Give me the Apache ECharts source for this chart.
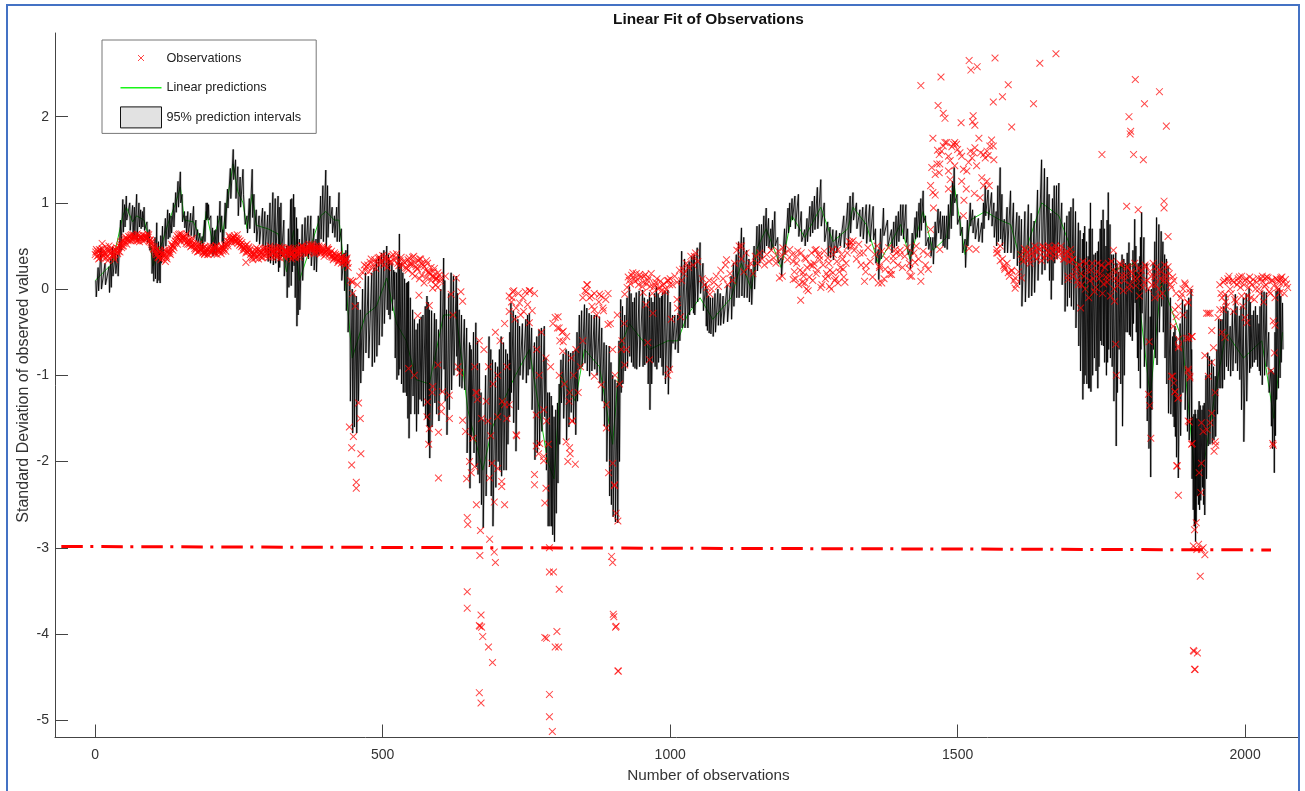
<!DOCTYPE html>
<html><head><meta charset="utf-8">
<style>html,body{margin:0;padding:0;background:#fff}#c{width:1305px;height:791px}</style>
<script src="https://cdn.jsdelivr.net/npm/echarts@6/dist/echarts.min.js"></script>
</head><body><div id="c"></div>
<script>
const xTicks=[0,500,1000,1500,2000];
const yTicks=[-5,-4,-3,-2,-1,0,1,2];
const thresholdLine=[[-59,-2.985],[2045,-3.025]];
// interval band: [x, upper, lower]
const bandRows=[[1,.1,-.09],[10,.48,.0],[24,.26,-.04],[30,.49,.15],[39,.4,.15],[48,1.04,.66],[54,1.08,.8],[65,.97,.58],[72,1.1,.58],[79,.92,.7],[85,.95,.68],[94,.69,.45],[101,.45,.09],[107,.77,.07],[112,.45,.07],[117,.73,.38],[126,.92,.58],[132,.85,.65],[140,1.12,.89],[148,1.36,1.0],[155,.9,.71],[161,.9,.61],[171,.96,.6],[178,.69,.54],[186,.61,.46],[193,1.0,.8],[197,.98,.8],[204,.71,.38],[210,.69,.4],[217,1.02,.66],[222,.69,.48],[230,1.16,.94],[240,1.62,1.27],[248,1.42,.85],[257,1.39,1.1],[264,.85,.65],[273,1.39,.83],[280,.92,.55],[291,.94,.5],[300,.86,.32],[309,1.12,.28],[318,1.08,.2],[323,1.0,.38],[333,.5,-.1],[340,1.04,.04],[345,1.1,.27],[350,.83,-.43],[355,.58,-.24],[365,.83,.38],[375,.85,.27],[384,.58,.2],[392,1.08,.58],[401,1.38,.47],[408,1.08,.76],[416,.85,.6],[424,1.12,.55],[433,.42,-.02],[439,.52,-.5],[447,.0,-1.67],[454,-.08,-1.67],[461,-.24,-1.09],[470,.19,-.74],[481,.19,-.9],[489,.34,-.78],[498,.42,-.55],[507,.5,-.24],[512,.34,-.35],[519,.22,-.12],[524,.19,-1.05],[529,.64,-.93],[535,.19,-1.2],[541,.07,-1.24],[545,.09,-1.73],[552,-.24,-1.24],[558,-.47,-1.65],[564,-.35,-1.28],[570,-.3,-1.36],[577,-.08,-1.59],[581,-.24,-1.96],[590,-.28,-1.32],[597,-.47,-1.53],[606,.36,-.93],[611,-.24,-1.69],[619,.19,-1.17],[628,.15,-.78],[633,-.24,-1.13],[642,-.35,-1.17],[651,-.62,-2.31],[654,-.7,-1.71],[662,-.39,-2.06],[668,-.86,-2.25],[674,-1.51,-2.77],[685,-.55,-2.06],[691,-.82,-2.75],[700,-.9,-2.0],[706,-.55,-2.17],[714,-.7,-2.1],[720,-.82,-1.48],[723,-.16,-1.2],[731,-.3,-1.88],[738,-.43,-1.0],[749,-.35,-1.09],[755,-.28,-.93],[764,-.62,-1.98],[772,-.47,-1.82],[781,-.43,-1.48],[787,-1.2,-2.75],[793,-1.24,-2.75],[798,-1.48,-2.93],[804,-1.32,-2.25],[810,-.82,-1.32],[819,-.7,-1.75],[827,-.74,-1.43],[835,-.7,-1.69],[842,-.3,-.93],[851,-.18,-.86],[859,-.28,-1.01],[868,-.3,-.93],[877,-.32,-1.09],[885,-.62,-1.59],[894,-.66,-2.4],[900,-1.0,-2.64],[908,-1.09,-2.71],[914,-.12,-1.2],[921,-.3,-.95],[929,.03,-.78],[935,-.15,-.9],[941,-.04,-.93],[952,-.01,-.9],[958,-.2,-.85],[964,-.04,-1.4],[970,-.15,-.85],[976,.03,-.93],[982,-.1,-.8],[987,-.04,-1.0],[996,-.01,-1.22],[1004,-.3,-.63],[1013,-.3,-.74],[1020,.44,-.45],[1030,.29,-.45],[1037,.38,-.22],[1042,.4,-.3],[1052,.54,-.05],[1062,.07,-.43],[1067,-.08,-.51],[1074,-.1,-.55],[1083,.0,-.42],[1092,-.08,-.4],[1106,.15,-.35],[1115,.4,-.1],[1124,.71,-.08],[1133,.45,-.1],[1141,.23,-.18],[1151,.73,.21],[1159,.75,.35],[1167,.94,.5],[1175,.7,.45],[1182,.9,.5],[1193,.36,.15],[1205,.94,.65],[1212,1.05,.8],[1223,1.1,.61],[1234,.69,.5],[1243,.96,.61],[1251,1.08,.69],[1262,1.27,.73],[1274,.78,.38],[1283,.69,.34],[1295,.65,.5],[1309,1.0,.46],[1318,1.12,.8],[1330,.92,.61],[1341,.98,.53],[1353,.96,.57],[1362,.46,.11],[1371,.94,.62],[1385,.69,.42],[1393,.85,.5],[1401,.98,.62],[1410,.98,.54],[1417,.46,.23],[1426,.83,.58],[1433,1.0,.6],[1440,1.14,.77],[1449,.6,.46],[1457,.6,.29],[1466,.93,.65],[1474,.85,.5],[1481,.85,.46],[1488,1.1,.7],[1494,1.41,1.0],[1504,.85,.62],[1513,.58,.25],[1522,1.0,.73],[1530,.85,.58],[1542,.77,.54],[1548,1.2,.85],[1559,1.12,.73],[1567,.9,.5],[1574,1.41,.58],[1581,.81,.42],[1592,1.14,.42],[1603,.89,.27],[1611,.81,-.2],[1623,.98,-.1],[1633,.79,-.04],[1646,1.5,.17],[1656,1.3,.3],[1662,.88,-.12],[1668,1.2,.3],[1676,1.23,.42],[1686,.77,-.26],[1694,.9,-.1],[1701,1.05,-.24],[1710,.77,-.66],[1717,.58,-1.28],[1721,.73,-1.0],[1727,.38,-1.15],[1731,1.0,-1.19],[1737,.4,-.8],[1743,.44,-1.15],[1748,.7,-.6],[1753,.92,-.66],[1758,.5,-1.0],[1762,1.12,-.7],[1768,.4,-.9],[1775,.42,-1.82],[1780,.2,-.7],[1786,.4,-1.59],[1792,.3,-.5],[1798,.54,-.53],[1803,.1,-.6],[1808,.81,-.16],[1812,.2,-.8],[1817,.38,-1.15],[1820,.89,-.28],[1829,.3,-1.53],[1835,-.32,-2.18],[1840,.3,-.7],[1846,.83,-.88],[1854,.67,-.2],[1860,.4,-.8],[1866,.27,-1.44],[1874,-.55,-1.48],[1878,-.43,-1.71],[1883,-.7,-2.19],[1891,-.12,-1.2],[1899,-.24,-1.65],[1906,.0,-1.82],[1909,-1.48,-2.56],[1913,-1.4,-2.93],[1916,-1.5,-2.4],[1920,-1.3,-2.56],[1925,-1.4,-2.3],[1929,-1.32,-2.62],[1935,-.74,-1.82],[1942,-.82,-1.79],[1948,-1.01,-1.71],[1954,-.35,-1.15],[1960,-.35,-1.15],[1967,-.06,-.9],[1974,-.43,-1.01],[1983,-.06,-.86],[1990,-.31,-1.05],[1997,-.1,-1.77],[2007,.01,-.97],[2012,-.3,-.9],[2018,-.2,-.82],[2024,-.4,-.95],[2029,-.02,-1.11],[2037,-.04,-.9],[2045,-.93,-1.59],[2050,-.97,-2.13],[2054,-.02,-1.28],[2060,.01,-1.03],[2065,-.16,-.7]];
// inner strands of the interval band: [x, upper, lower]
const bandInnerRows=[[5,.25,-.02],[17,.3,.05],[27,.35,.02],[35,.42,.18],[44,.8,.45],[51,.98,.72],[60,1.0,.68],[68,.95,.62],[76,1.0,.72],[82,.9,.72],[90,.78,.55],[98,.5,.18],[104,.6,.12],[110,.55,.1],[114,.62,.3],[122,.82,.5],[129,.88,.6],[136,1.0,.72],[144,1.25,.95],[151,1.1,.78],[158,.85,.65],[166,.88,.62],[175,.8,.56],[182,.65,.5],[190,.8,.55],[195,1.0,.82],[201,.85,.5],[207,.68,.42],[213,.85,.52],[220,.85,.55],[226,1.0,.7],[235,1.4,1.05],[244,1.5,1.05],[252,1.3,.95],[260,1.1,.75],[268,1.05,.7],[276,1.1,.65],[285,.85,.52],[295,.9,.45],[304,1.0,.3],[313,1.05,.3],[320,.95,.25],[328,.8,.15],[336,.7,.02],[342,1.05,.2],[347,.95,-.1],[352,.7,-.3],[360,.75,.1],[370,.85,.35],[380,.7,.22],[388,.85,.4],[396,1.2,.55],[404,1.2,.6],[412,.95,.65],[420,.95,.55],[428,.7,.1],[436,.45,-.25],[443,.1,-1.3],[450,-.05,-1.6],[457,-.15,-1.3],[465,.0,-.95],[475,.15,-.8],[485,.25,-.85],[493,.38,-.65],[502,.45,-.4],[510,.4,-.3],[516,.3,-.25],[521,.2,-.8],[527,.4,-1.0],[532,.3,-1.1],[538,.12,-1.2],[543,.08,-1.5],[548,-.1,-1.45],[555,-.35,-1.45],[561,-.4,-1.45],[567,-.32,-1.3],[574,-.2,-1.5],[579,-.15,-1.8],[585,-.25,-1.6],[593,-.35,-1.45],[601,.0,-1.2],[608,.1,-1.3],[615,-.05,-1.4],[623,.15,-1.0],[630,-.05,-.95],[637,-.3,-1.15],[646,-.45,-1.9],[652,-.65,-2.0],[658,-.5,-1.9],[665,-.6,-2.15],[671,-1.2,-2.5],[679,-1.0,-2.4],[688,-.7,-2.4],[696,-.85,-2.3],[703,-.7,-2.1],[710,-.62,-2.1],[717,-.75,-1.8],[721,-.5,-1.3],[727,-.25,-1.55],[735,-.35,-1.4],[743,-.4,-1.05],[752,-.3,-1.0],[759,-.45,-1.4],[768,-.55,-1.9],[776,-.45,-1.65],[784,-.8,-2.1],[790,-1.2,-2.75],[795,-1.35,-2.85],[801,-1.4,-2.6],[807,-1.1,-1.8],[814,-.75,-1.5],[823,-.72,-1.6],[831,-.72,-1.55],[838,-.5,-1.3],[846,-.25,-.9],[855,-.22,-.95],[863,-.3,-.95],[872,-.3,-1.0],[881,-.45,-1.3],[889,-.65,-2.0],[897,-.85,-2.5],[904,-1.05,-2.7],[911,-.6,-2.0],[917,-.2,-1.1],[925,-.1,-.9],[932,-.05,-.85],[938,-.1,-.92],[946,-.02,-.9],[955,-.1,-.88],[961,-.12,-1.1],[967,-.1,-1.1],[973,-.05,-.9],[979,-.05,-.85],[985,-.08,-.9],[991,-.02,-1.1],[1000,-.15,-.95],[1008,-.3,-.7],[1016,.1,-.6],[1025,.35,-.45],[1033,.32,-.3],[1040,.38,-.28],[1047,.48,-.15],[1057,.3,-.25],[1064,.0,-.48],[1070,-.1,-.52],[1078,-.05,-.5],[1087,-.05,-.42],[1099,.05,-.38],[1110,.3,-.2],[1119,.55,-.1],[1128,.6,-.1],[1137,.35,-.15],[1146,.5,.0],[1155,.75,.3],[1163,.85,.42],[1171,.82,.48],[1178,.8,.48],[1187,.6,.3],[1199,.7,.4],[1208,1.0,.72],[1217,1.08,.7],[1228,.9,.55],[1238,.82,.55],[1247,1.02,.65],[1256,1.18,.7],[1268,1.0,.55],[1278,.72,.36],[1289,.68,.42],[1302,.85,.48],[1313,1.08,.65],[1324,1.0,.7],[1335,.95,.58],[1347,.98,.55],[1357,.7,.3],[1366,.7,.35],[1378,.8,.5],[1389,.78,.48],[1397,.9,.55],[1405,.98,.58],[1413,.7,.4],[1421,.65,.4],[1429,.9,.6],[1436,1.05,.68],[1444,.85,.5],[1453,.6,.38],[1461,.78,.48],[1470,.9,.58],[1477,.85,.48],[1484,.98,.58],[1491,1.25,.85],[1499,1.1,.75],[1508,.72,.42],[1517,.8,.5],[1526,.92,.65],[1536,.82,.55],[1545,1.0,.7],[1553,1.15,.8],[1563,1.0,.6],[1570,1.2,.55],[1577,1.1,.5],[1586,.95,.42],[1597,1.0,.35],[1607,.85,.05],[1617,.9,-.15],[1628,.88,-.08],[1639,1.15,.1],[1651,1.4,.22],[1659,1.1,.1],[1665,1.05,.1],[1672,1.2,.35],[1681,1.0,.05],[1690,.85,-.2],[1697,.95,-.2],[1705,.9,-.45],[1713,.68,-.95],[1719,.65,-1.1],[1724,.55,-1.1],[1729,.7,-1.15],[1734,.7,-1.0],[1740,.42,-.95],[1745,.55,-.9],[1750,.8,-.65],[1755,.7,-.85],[1760,.8,-.85],[1765,.75,-.8],[1771,.4,-1.3],[1777,.3,-1.2],[1783,.3,-1.1],[1789,.35,-1.0],[1795,.42,-.5],[1800,.3,-.55],[1805,.45,-.4],[1810,.5,-.5],[1814,.3,-.95],[1818,.6,-.7],[1824,.6,-.9],[1832,.0,-1.85],[1837,.0,-1.4],[1843,.55,-.8],[1850,.75,-.5],[1857,.55,-.5],[1863,.35,-1.1],[1870,-.1,-1.45],[1876,-.5,-1.6],[1880,-.55,-1.95],[1887,-.4,-1.7],[1895,-.18,-1.4],[1902,-.1,-1.75],[1907,-.7,-2.2],[1911,-1.45,-2.75],[1914,-1.45,-2.7],[1918,-1.4,-2.5],[1922,-1.35,-2.45],[1927,-1.35,-2.5],[1932,-1.0,-2.2],[1938,-.78,-1.8],[1945,-.9,-1.75],[1951,-.7,-1.45],[1957,-.35,-1.15],[1963,-.2,-1.05],[1970,-.25,-.95],[1978,-.25,-.95],[1986,-.2,-.95],[1993,-.2,-1.4],[2002,-.05,-1.3],[2009,-.15,-.92],[2015,-.25,-.85],[2021,-.3,-.9],[2026,-.2,-1.0],[2033,-.03,-1.0],[2041,-.5,-1.2],[2047,-.95,-1.85],[2052,-.5,-1.7],[2057,.0,-1.15],[2062,-.08,-.85]];
// linear prediction: [x, y]
const predicted=[[0,.1],[30,.3],[48,.85],[54,.95],[65,.78],[72,.85],[85,.8],[94,.58],[101,.27],[107,.4],[117,.55],[126,.75],[140,1.0],[148,1.18],[155,.8],[171,.78],[186,.53],[193,.9],[204,.55],[217,.84],[222,.65],[230,1.05],[240,1.45],[248,1.13],[257,1.0],[264,.7],[273,1.1],[280,.74],[300,.7],[318,.64],[333,.2],[345,.68],[355,.1],[375,.5],[392,.85],[401,.9],[416,.8],[424,.8],[433,.25],[447,-.8],[470,-.3],[489,-.2],[507,.13],[524,-.4],[541,-.6],[558,-1.05],[581,-1.1],[606,-.3],[628,-.3],[648,-1.4],[674,-2.1],[691,-1.6],[720,-1.15],[731,-1.0],[755,-.7],[787,-2],[798,-2.2],[810,-1.0],[835,-1.3],[851,-.7],[877,-.9],[900,-1.8],[914,-.66],[929,-.4],[964,-.7],[996,-.6],[1013,-.6],[1030,-.3],[1052,-.1],[1074,-.35],[1106,-.1],[1124,.3],[1141,.0],[1151,.47],[1167,.7],[1193,.25],[1212,.85],[1234,.6],[1262,.95],[1283,.55],[1309,.7],[1318,.95],[1341,.75],[1362,.3],[1385,.55],[1401,.75],[1417,.35],[1440,.9],[1457,.45],[1481,.6],[1494,1.2],[1513,.4],[1522,.8],[1548,.9],[1574,.8],[1592,.75],[1611,.3],[1646,1],[1676,.85],[1701,.4],[1731,-.1],[1762,.2],[1808,.3],[1835,-1.25],[1854,.1],[1891,-.6],[1913,-2.2],[1929,-2],[1948,-1.2],[1967,-.5],[1997,-.8],[2029,-.6],[2050,-1.5],[2065,-.5]];
// observation strips: each run starts at x=start, one value every 4 observations
const obsStrips=[
{start:0,y:[.40,.44,.36,.47,.41,.38,.50,.42,.37,.45,.47,.52,.56,.55,.58,.60,.59,.62,.60,.58,.61,.59,.62,.60,.57,.50,.44,.40,.45,.36,.42,.38,.46,.47,.50,.55,.60,.57,.62,.58,.55,.52,.56,.50,.47,.52,.45,.48,.42,.46,.50,.44,.48,.40,.45,.50,.47,.52,.55,.58,.60,.57,.53,.56,.50,.46,.52,.44,.38,.42,.48,.35,.45,.40,.48,.43,.50,.37,.46,.41,.49,.44,.40,.45,.38,.47,.42,.36,.44,.48,.50,.43,.46,.52,.48,.44,.50,.46,.41,.47,.43,.48,.40,.37,.42,.35,.40,.30,.38,.33]},
{start:2,y:[.46,.35,.42,.39,.49,.33,.45,.40,.34,.43,.50,.48,.53,.58,.61,.56,.63,.58,.56,.60,.63,.57,.60,.55,.52,.46,.40,.36,.34,.41,.32,.42,.43,.50,.53,.62,.58,.64,.60,.53,.56,.49,.51,.45,.43,.49,.47,.41,.44,.48,.42,.46,.50,.43,.47,.44,.49,.53,.60,.56,.62,.59,.55,.49,.48,.42,.47,.40,.34,.45,.38,.44,.36,.47,.41,.37,.45,.43,.39,.47,.36,.42,.46,.40,.44,.35,.39,.46,.41,.45,.47,.40,.49,.45,.50,.47,.42,.48,.44,.38,.44,.46,.38,.34,.40,.31,.36,.34,.28,.36]},
{start:1,y:[.43,.39,.45,.37,.42,.46,.36,.44,.40,.48,.44,.55,.50,.60,.56,.62,.57,.60,.64,.55,.59,.62,.58,.63,.54,.47,.42,.37,.43,.38,.45,.35,.41,.52,.48,.58,.63,.55,.60,.61,.52,.54,.59,.47,.50,.44,.50,.43,.47,.40,.45,.49,.42,.46,.43,.48,.51,.56,.62,.54,.59,.55,.58,.52,.45,.50,.43,.46,.36,.40,.44,.39,.42,.46,.38,.47,.40,.44,.48,.38,.45,.48,.37,.43,.48,.40,.45,.38,.47,.42,.49,.46,.44,.48,.52,.41,.47,.50,.43,.45,.40,.46,.42,.39,.36,.38,.33,.37,.31,.34]},
{start:3,y:[.38,.46,.41,.44,.36,.43,.47,.39,.46,.41,.43,.50,.58,.52,.57,.63,.60,.56,.62,.59,.56,.60,.64,.57,.55,.49,.46,.38,.41,.39,.36,.44,.40,.45,.56,.52,.64,.59,.56,.64,.57,.50,.53,.52,.44,.47,.42,.49,.40,.43,.47,.41,.50,.45,.41,.46,.44,.50,.57,.60,.55,.63,.51,.54,.47,.44,.49,.42,.40,.36,.46,.42,.37,.43,.46,.40,.48,.42,.37,.44,.48,.39,.43,.47,.41,.38,.46,.42,.37,.50,.45,.48,.42,.50,.46,.43,.48,.45,.49,.42,.46,.41,.44,.36,.38,.33,.37,.32,.35,.30]},
{start:440,y:[.25,.10,-.05,-.20,.05,.15,.20,.28]},
{start:470,y:[.22,.28,.31,.25,.34,.30,.37,.33,.28,.38,.35,.32,.40,.36,.30,.33,.27,.31,.24,.36,.29,.38,.26,.33,.35,.28,.22,.30,.18,.15,.24,.12,.16]},
{start:472,y:[.26,.20,.35,.29,.24,.36,.30,.39,.34,.25,.31,.38,.33,.41,.27,.37,.32,.25,.34,.28,.37,.31,.23,.35,.30,.26,.33,.19,.25,.20,.11,.19,.09]},
{start:544,y:[.22,.30,.18,.15,.24,.12,.16,.07,.13,.20,.10,.15,.05,.02,.12]},
{start:660,y:[-.9,-1.2,-.6,-1.5,-.7,-1.3,-.9,-1.7,-1.1,-.5]},
{start:700,y:[-1.0,-.6,-1.3,-.4,-.9]},
{start:720,y:[-.08,-.15,-.02,-.22,-.05,-.3,-.1,-.03,-.18,-.02,-.25,-.05]},
{start:768,y:[-.7,-1.0,-.5,-1.4,-.8,-1.8,-.9,-.4]},
{start:800,y:[-.33,-.45,-.6,-.5,-1.1,-.55,-1.3,-.8,-1.0,-.7,-1.2,-.9,-.6]},
{start:852,y:[-.02,.05,-.1,-.2,-.05,-.3,-.15,-.08,-.25,-.12]},
{start:892,y:[-.05,-.4,-.7,-1.0,-.3,-1.1,-.6,-.4,-.7]},
{start:925,y:[.02,.10,.16,.12,.18,.05,.14,.08,.17,.1,.03,-.05,.05,.12,.02,-.02,.06,.0,.1]},
{start:927,y:[.14,.06,.19,.09,.11,.17,.03,.15,.06,.13,.18,.02,.08,.0,.09,.04,-.03,.1,.05]},
{start:1000,y:[.12,.05,.15,.08,.22,.10,.18,.30,.25,.38,.28,.42,.32]},
{start:1056,y:[.12,.05,.02,.1,.0,.08,.15,.03,.22,.12,.28,.05,.18,.1]},
{start:1112,y:[.3,.45,.5,.35,.2,.42,.25,.3,.18]},
{start:1148,y:[.38,.3,.42,.35,.28,.4,.32,.45,.36,.3,.44,.38,.48,.42,.34,.46]},
{start:1212,y:[.4,.2,.3,.05,.42,.15,.35,-.02,.28,.1,.45,.22,.38,.05,.44,.18,.3,.0,.4,.12,.46,.25,.35,.08,.42]},
{start:1214,y:[.32,.12,.44,.22,.08,.36,.25,.14,.42,.3,.18,.4,.02,.28,.12,.36,.22,.46,.1,.32,.2,.4,.14,.3,.5]},
{start:1312,y:[.55,.5,.45,.35,.52,.28,.42,.2,.48,.32,.14,.4,.5,.25,.44,.12,.35,.48,.22,.38,.46,.28,.4]},
{start:1400,y:[.45,.25,.38,.48,.3,.15,.42,.5,.35,.2,.44,.28,.4]},
{start:1570,y:[.42,.5,.35,.25,.3,.15,.22,.1,.05,.2]},
{start:1610,y:[.4,.32,.45,.38,.3,.42,.5,.35,.46,.33,.48,.4,.5,.36,.44,.5,.38,.46,.42,.35,.44,.32,.4]},
{start:1612,y:[.35,.47,.42,.34,.46,.38,.44,.48,.4,.5,.36,.45,.42,.48,.38,.46,.43,.5,.35,.42,.38,.46,.34]},
{start:1700,y:[.34,.2,.1,.28,.05,.15,.3,-.1,.22,.12,.02,.3,.18,-.05,.25,.08,.15,.32,.0,.2,.1,.28,-.02,.16,.25,.05,.18,.3,.12,-.08,.22,.08,.26,.0,.15,.3,.05,.2,.12,-.05,.28,.1,.18,.02]},
{start:1702,y:[.15,.26,.05,.18,.32,.0,.22,.1,.3,-.03,.2,.12,.28,.06,.14,.3,-.08,.22,.12,.04,.3,.16,.1,.26,.0,.2,.12,.04,.24,.16,.02,.28,.1,.2,.05,.14,.26,.0,.2,.1,.16,.26,.05,.14]},
{start:1876,y:[.1,-.05,-.2,-.1,-.3,.05,-.15,.0]},
{start:1956,y:[.05,-.1,.1,-.2,.15,-.05,.08,-.15,.12,.02,-.2,.1,-.08,.14,.05,-.12,.08,.0,.12,-.15,.05,.13,-.05,.1,-.1,.02,.08,.14,-.05,.06]},
{start:1958,y:[-.05,.08,-.15,.12,.0,.1,-.12,.05,.14,-.08,.05,.12,.02,-.1,.11,.0,.13,-.05,.09,.03,.14,-.03,.1,.04,.12,.0,.13,.08,.11,.02]}
];
// individually read observations: [x, y]
const obsScatter=[[12,.53],[262,.31],[190,.40],[447,.08],[442,-1.60],[449,-1.71],[446,-1.84],[462,-1.91],[446,-2.04],[454,-2.24],[454,-2.31],[461,-1.5],[458,-1.32],[448,.09],[597,-1.66],[597,-2.19],[616,-1.5],[580,-1.8],[581,-1.62],[577,-1.48],[578,-1.31],[602,-1.42],[602,-1.34],[604,-1.19],[616,-1.23],[586,-1.2],[587,-1.13],[563,-.07],[561,-.31],[581,-.19],[587,.01],[593,.13],[609,.15],[628,.13],[619,-.06],[636,-.03],[639,-.14],[622,-.3],[545,-.92],[555,-1.0],[596,-.88],[634,-.97],[631,-.9],[639,-1.52],[644,-1.65],[657,-1.73],[662,-1.2],[665,-1.28],[651,-2.0],[660,-2.06],[654,-2.13],[646,-2.2],[663,-2.5],[683,-1.53],[686,-2.19],[690,-2.02],[700,-2.08],[707,-2.23],[707,-2.29],[694,-2.47],[712,-2.5],[732,-1.69],[733,-1.7],[720,-1.34],[712,-1.34],[716,-1.5],[700,-1.48],[726,-.03],[725,-.1],[755,-.02],[738,-.16],[745,-.26],[730,-.35],[755,-.39],[720,-.26],[805,-.32],[807,-.45],[814,-.49],[814,-.61],[813,-.72],[807,-1.0],[825,-1.2],[819,-1.77],[825,-1.84],[826,-1.91],[822,-2.0],[835,-2.03],[829,-1.53],[830,-1.53],[773,-1.79],[767,-1.82],[771,-1.91],[780,-1.94],[780,-1.99],[764,-2.15],[764,-2.27],[767,-1.46],[784,-2.31],[782,-2.48],[785,-1.53],[855,.05],[854,-.03],[848,-.1],[877,-.06],[863,-.08],[883,-.22],[868,-.24],[892,-.41],[868,-1.01],[880,-1.11],[889,-1.34],[889,-1.61],[900,-2.02],[893,-2.13],[903,-2.28],
[647,-3.51],[647,-3.70],[671,-3.78],[668,-3.9],[672,-3.92],[669,-3.91],[674,-4.03],[668,-4.68],[671,-4.8],[684,-4.15],[691,-4.33],[647,-2.65],[648,-2.73],[686,-2.9],[694,-3.05],[696,-3.17],[669,-3.09],[670,-2.8],[790,-3.28],[797,-3.28],[785,-4.05],[782,-4.04],[803,-3.97],[800,-4.15],[806,-4.15],[790,-4.7],[790,-4.96],[795,-5.13],[807,-3.48],[790,-3.0],[898,-3.1],[900,-3.17],[901,-3.77],[902,-3.8],[906,-3.91],[905,-3.92],[910,-4.43],[909,-4.43],[903,-2.27],[906,-2.6],[909,-2.69],[1910,-4.19],[1911,-4.2],[1917,-4.22],[1913,-4.41],[1912,-4.41],
[1922,-3.33],[1910,-2.98],[1919,-2.96],[1916,-3.02],[1927,-3.0],[1930,-3.08],[1924,-3.02],[1915,-2.71],[1912,-2.79],[1923,-2.36],[1920,-2.13],[1924,-2.02],[1908,-1.79],[1903,-1.54],[1924,-1.55],[1927,-1.65],[1934,-1.63],[1939,-1.55],[1942,-1.44],[1948,-1.77],[1949,-1.81],[1946,-1.88],[1936,-1.01],[1930,-.77],[1942,-.85],[1948,-1.2],[1945,-.68],[1942,-.48],[1936,-.28],[1939,-.28],[1933,-.28],[1953,-.33],[1960,-.5],[1965,-.56],[1956,-.24],[1962,-.24],[1965,-.06],[1971,.09],[1989,.08],[1994,.15],[2009,.08],[2035,.13],[2030,.15],[2061,.11],[2056,.11],[2061,-.04],[2049,-.37],[2052,-.42],[2051,-.74],[2045,-.95],[2049,-1.81],[2048,-1.79],[2000,-.33],[2003,-.39],[1980,-.26],[1884,-2.39],[1882,-2.05],[1884,-1.26],[1878,-1.19],[1876,-1.09],[1872,-1.01],[1884,-.68],[1884,-.58],[1908,-.55],[1902,-.57],[1904,-1.03],[1901,-.95],[1878,-.24],[1880,-.32],[1895,.07],[1892,.0],[1904,-.04],[1890,-.06],[1901,-.16],
[1794,.96],[1814,.92],[1859,1.02],[1859,.94],[1866,.61],[1771,.45],[1692,.15],[1692,.11],[1775,-.64],[1776,-1.0],[1833,-.61],[1832,-1.22],[1834,-1.35],[1836,-1.73],[1881,-2.05],[1874,-1.01],[1878,-1.19],[1883,-1.27],[1714,-.22],[1773,-.14],[1843,-.1],[1852,-.08],[1901,-1.53],[1907,-1.8],[1907,-.55],[1898,-.57],[1904,-1.01],[1901,-.93],[1884,-.66],[1875,-.43],
[1436,2.36],[1471,2.46],[1466,2.13],[1475,2.04],[1478,1.98],[1520,2.65],[1523,2.54],[1534,2.58],[1565,2.68],[1562,2.17],[1578,2.23],[1588,2.37],[1594,1.88],[1506,1.93],[1527,2.01],[1526,1.94],[1530,1.9],[1632,2.15],[1643,2.62],[1671,2.73],[1751,1.56],[1809,2.43],[1825,2.15],[1851,2.29],[1798,2.0],[1801,1.83],[1800,1.8],[1806,1.56],[1823,1.5],[1863,1.89],
[1457,1.75],[1465,1.61],[1472,1.6],[1478,1.7],[1475,1.66],[1481,1.7],[1468,1.56],[1484,1.54],[1487,1.49],[1493,1.68],[1498,1.68],[1495,1.7],[1490,1.65],[1500,1.62],[1504,1.58],[1507,1.54],[1522,1.6],[1530,1.64],[1537,1.75],[1533,1.43],[1519,1.47],[1525,1.52],[1545,1.56],[1551,1.6],[1556,1.66],[1559,1.73],[1562,1.66],[1563,1.5],[1548,1.52],[1553,1.55],[1540,1.58],[1528,1.58],[1455,1.41],[1464,1.45],[1469,1.45],[1461,1.33],[1468,1.35],[1484,1.37],[1487,1.27],[1495,1.43],[1510,1.39],[1516,1.37],[1542,1.29],[1545,1.2],[1551,1.25],[1555,1.2],[1453,1.2],[1457,1.12],[1461,1.09],[1484,1.16],[1507,1.25],[1515,1.16],[1529,1.11],[1539,1.06],[1511,1.03],[1458,.94],[1453,.69],[1510,.85],[1469,.46],[1520,.47],[1532,.46],[1568,.46],[1568,.42],
[1582,.23],[1588,.19],[1600,.13],[1600,.01],[1574,.33],[1580,.27],[1594,.21],[1611,.13],[1382,.17],[1417,.15],[1436,.09],[1368,.07],[1426,.31],[1449,.23],[1374,.23],[1388,.33],[1417,.23],
[1227,-.13],[1190,.13],[1195,.15],[1214,.11],[1234,.07],[1237,.0],[1277,.03],[1292,.07],[1338,.09],[1362,.07],[1385,.17],[1219,.38],[1254,.46],[1260,.34],[1283,.19],[1301,.23],[1330,.42],[1341,.27],[1364,.27],[1318,.56],[1315,.54],[1248,.27],[1231,.19],[1274,.15],[1393,.42],[1069,-.06],[958,-.18],[1012,-.12],[1013,-.22],[1018,-.32],[1002,-.35],[970,-.28],[921,-.06],[953,-.04],[1124,.5],[1098,.34],[1042,.38],[1022,.23],[921,-.88],[915,-.7],[961,-.62],[964,-.82],[999,-.93],[996,-1.0]];

const band=[];
bandRows.concat(bandInnerRows).sort((a,b)=>a[0]-b[0]).forEach(r=>{band.push([r[0],r[1]]);band.push([r[0]+.8,r[2]]);});
const observations=obsScatter.slice();
obsStrips.forEach(s=>s.y.forEach((v,i)=>observations.push([s.start+i*4,v])));
const crossPath='path://M0 0L10 10M10 0L0 10';
const crossIcon='path://M0 0M21 21M7.5 7.5L13.5 13.5M13.5 7.5L7.5 13.5';
const font='"Liberation Sans",Arial,sans-serif';
const chart=echarts.init(document.getElementById('c'),null,{renderer:'canvas'});
const axisCommon={
  axisLine:{onZero:false,lineStyle:{color:'#444',width:1}},
  splitLine:{show:false},
  nameLocation:'middle',
  nameMoveOverlap:false
};
chart.setOption({
  animation:false,
  backgroundColor:'#fff',
  title:{text:'Linear Fit of Observations',left:613,top:9,padding:[3,0,0,0],textStyle:{fontFamily:font,fontSize:15.4,fontWeight:'bold',color:'#111'}},
  grid:{left:55,top:33,right:7,bottom:53.5,containLabel:false},
  legend:{
    left:102,top:40,orient:'vertical',selectedMode:false,
    backgroundColor:'#fff',borderColor:'#777',borderWidth:1,borderRadius:0,
    padding:[7,15,5,18],itemWidth:41,itemHeight:21,itemGap:12.2,
    textStyle:{fontFamily:font,fontSize:12.7,color:'#222'},
    data:[
      {name:'Observations',icon:crossIcon,itemStyle:{color:'transparent',borderColor:'#f00',borderWidth:1}},
      {name:'Linear predictions',icon:'path://M0 0H41V1.4H0Z',itemStyle:{color:'#19f519',borderWidth:0}},
      {name:'95% prediction intervals',icon:'rect',itemStyle:{color:'#e2e2e2',borderColor:'#111',borderWidth:1}}
    ]
  },
  xAxis:Object.assign({},axisCommon,{
    type:'value',min:-70,max:2092,name:'Number of observations',nameGap:31,
    nameTextStyle:{color:'#333',fontFamily:font,fontSize:15.3,padding:[0,0,0,64]},
    axisTick:{inside:true,length:13,customValues:xTicks,lineStyle:{color:'#444'}},
    axisLabel:{customValues:xTicks,formatter:v=>String(v),color:'#333',fontFamily:font,fontSize:14,margin:11}
  }),
  yAxis:Object.assign({},axisCommon,{
    type:'value',min:-5.2,max:2.97,name:'Standard Deviation of observed values',nameGap:23,
    nameTextStyle:{color:'#333',fontFamily:font,fontSize:16},
    axisTick:{inside:true,length:13,customValues:yTicks,lineStyle:{color:'#444'}},
    axisLabel:{customValues:yTicks,formatter:v=>String(v),color:'#333',fontFamily:font,fontSize:14,margin:6}
  }),
  graphic:[{type:'rect',silent:true,z:100,shape:{x:7,y:5,width:1292,height:810},style:{fill:'none',stroke:'#4472c4',lineWidth:2}}],
  series:[
    {name:'95% prediction intervals',type:'line',z:2,data:band,symbol:'none',lineStyle:{color:'#000',width:2.6,opacity:.2}},
    {name:'Linear predictions',type:'line',z:3,data:predicted,symbol:'none',lineStyle:{color:'#19c919',width:1}},
    {name:'95% prediction intervals',type:'line',z:4,data:band,symbol:'none',lineStyle:{color:'#000',width:.95,opacity:.9}},
    {name:'Observations',type:'scatter',z:5,data:observations,symbol:crossPath,symbolSize:6.8,
      itemStyle:{color:'transparent',borderColor:'#ff0000',borderWidth:1,opacity:.72}},
    {name:'threshold',type:'line',z:6,data:thresholdLine,symbol:'none',lineStyle:{color:'#f00',width:3,type:[21.5,7.5,3,8]}}
  ]
});
</script></body></html>
